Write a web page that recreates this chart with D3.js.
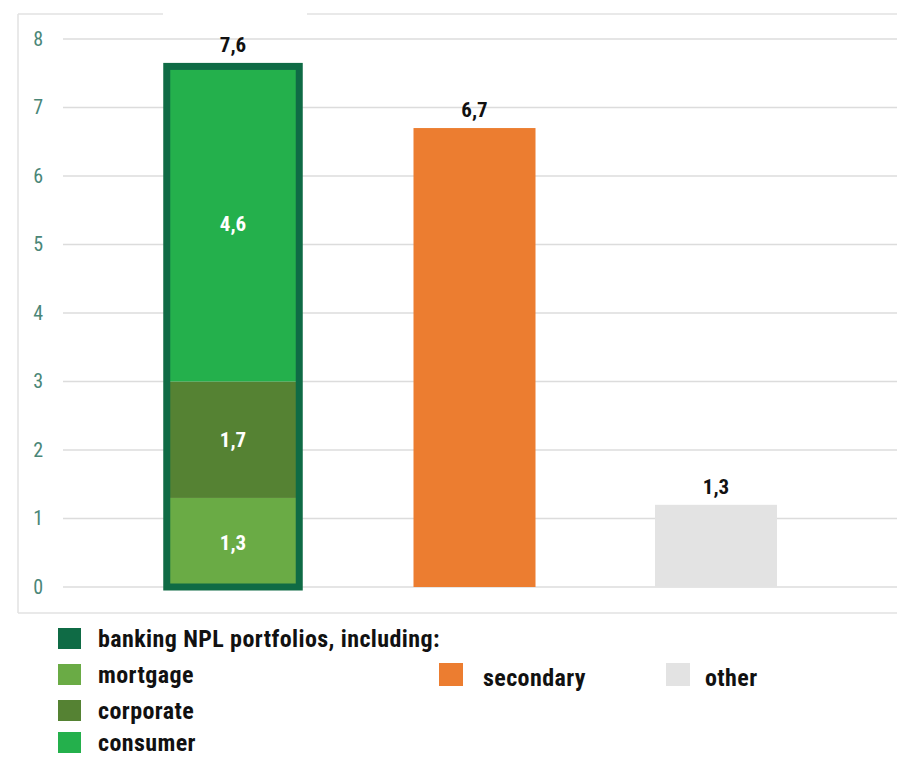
<!DOCTYPE html>
<html>
<head>
<meta charset="utf-8">
<script src="https://cdn.jsdelivr.net/npm/d3@7"></script>
<style>
  html, body { margin: 0; padding: 0; background: #fff; }
  svg { display: block; }
  text { font-family: "Roboto Condensed", "DejaVu Sans Condensed", sans-serif; }
</style>
</head>
<body>
<svg id="chart" width="897" height="759"></svg>
<script>
// ---- data ----
const categories = ["banking", "secondary", "other"];
const bankingSegments = ["mortgage", "corporate", "consumer"];
const bankingValues = [1.3, 1.7, 4.6];
const bankingTotal = 7.6;
const otherValues = [6.7, 1.2];            // secondary, other (drawn bar heights)
const totalLabels = ["7,6", "6,7", "1,3"];
const segmentLabels = ["1,3", "1,7", "4,6"];
const yTicks = [0, 1, 2, 3, 4, 5, 6, 7, 8];
const legendLeft = ["banking NPL portfolios, including:", "mortgage", "corporate", "consumer"];
const legendRight = ["secondary", "other"];

// ---- colours ----
const colors = {
  banking: "#0f6b45",
  mortgage: "#6aab45",
  corporate: "#558233",
  consumer: "#24b04c",
  secondary: "#ec7d30",
  other: "#e3e3e3"
};

const svg = d3.select("#chart");

// frame
const frame = svg.append("g").attr("stroke", "#e2e2e2").attr("stroke-width", 1.5).attr("fill", "none");
frame.append("line").attr("x1", 18).attr("x2", 163).attr("y1", 14).attr("y2", 14);
frame.append("line").attr("x1", 307).attr("x2", 897).attr("y1", 14).attr("y2", 14);
frame.append("line").attr("x1", 18).attr("x2", 18).attr("y1", 14).attr("y2", 613);
frame.append("line").attr("x1", 18).attr("x2", 897).attr("y1", 613).attr("y2", 613);

// scales
const y = d3.scaleLinear().domain([0, 8]).range([587, 39]);
const x = d3.scalePoint().domain(categories).range([233, 716]);
const barW = 122;

// gridlines
svg.append("g").selectAll("line").data(yTicks).join("line")
  .attr("x1", 63).attr("x2", 897)
  .attr("y1", d => y(d)).attr("y2", d => y(d))
  .attr("stroke", "#dcdcdc").attr("stroke-width", 1.5);

// y axis labels
const yAxis = d3.axisLeft(y).tickValues(yTicks).tickSize(0).tickPadding(0).tickFormat(d3.format("d"));
const ga = svg.append("g").attr("transform", "translate(43,0)").call(yAxis);
ga.select(".domain").remove();
ga.selectAll("text")
  .attr("font-size", 20)
  .attr("fill", "#4a8677")
  .attr("font-family", "\"Roboto Condensed\", \"DejaVu Sans Condensed\", sans-serif");

// banking stacked bar
const stackData = [];
let acc = 0;
bankingValues.forEach((v, i) => { stackData.push({ key: bankingSegments[i], y0: acc, y1: acc + v, label: segmentLabels[i] }); acc += v; });

const bx = x("banking");
const innerW = 126;
svg.append("g").selectAll("rect").data(stackData).join("rect")
  .attr("x", bx - innerW / 2)
  .attr("width", innerW)
  .attr("y", d => y(d.y1))
  .attr("height", d => y(d.y0) - y(d.y1))
  .attr("fill", d => colors[d.key]);

// outline for the total banking portfolio
svg.append("rect")
  .attr("x", bx - innerW / 2 - 3.25)
  .attr("width", innerW + 6.5)
  .attr("y", y(bankingTotal))
  .attr("height", y(0) - y(bankingTotal))
  .attr("fill", "none")
  .attr("stroke", colors.banking)
  .attr("stroke-width", 7);

// segment labels
svg.append("g").selectAll("text").data(stackData).join("text")
  .attr("x", bx)
  .attr("y", d => y((d.y0 + d.y1) / 2))
  .attr("dy", "0.35em")
  .attr("text-anchor", "middle")
  .attr("font-size", 21).attr("font-weight", "bold")
  .attr("fill", "#ffffff")
  .text(d => d.label);

// secondary & other bars
const simpleBars = [
  { key: "secondary", value: otherValues[0] },
  { key: "other", value: otherValues[1] }
];
svg.append("g").selectAll("rect").data(simpleBars).join("rect")
  .attr("x", d => x(d.key) - barW / 2)
  .attr("width", barW)
  .attr("y", d => y(d.value))
  .attr("height", d => y(0) - y(d.value))
  .attr("fill", d => colors[d.key]);

// total labels
const totals = [
  { key: "banking", top: y(bankingTotal) - 3.5 },
  { key: "secondary", top: y(otherValues[0]) },
  { key: "other", top: y(otherValues[1]) }
];
svg.append("g").selectAll("text").data(totals).join("text")
  .attr("x", d => x(d.key))
  .attr("y", d => d.top - 11)
  .attr("text-anchor", "middle")
  .attr("font-size", 21).attr("font-weight", "bold")
  .attr("fill", "#111")
  .text((d, i) => totalLabels[i]);

// legend
const legendKeysLeft = ["banking", "mortgage", "corporate", "consumer"];
const lg = svg.append("g");
const rowY = [647, 683, 719, 751];
legendLeft.forEach((t, i) => {
  lg.append("rect").attr("x", 58).attr("y", rowY[i] - 19).attr("width", 23).attr("height", 21)
    .attr("fill", colors[legendKeysLeft[i]]);
  lg.append("text").attr("x", 98).attr("y", rowY[i])
    .attr("font-size", 24).attr("font-weight", "bold").attr("letter-spacing", 0.4)
    .attr("fill", "#111").text(t);
});
const rightX = [439, 666];
const rightTextX = [483, 705];
legendRight.forEach((t, i) => {
  lg.append("rect").attr("x", rightX[i]).attr("y", 663).attr("width", 24).attr("height", 23)
    .attr("fill", colors[t]);
  lg.append("text").attr("x", rightTextX[i]).attr("y", 686)
    .attr("font-size", 24).attr("font-weight", "bold").attr("letter-spacing", 0.4)
    .attr("fill", "#111").text(t);
});
</script>
</body>
</html>
